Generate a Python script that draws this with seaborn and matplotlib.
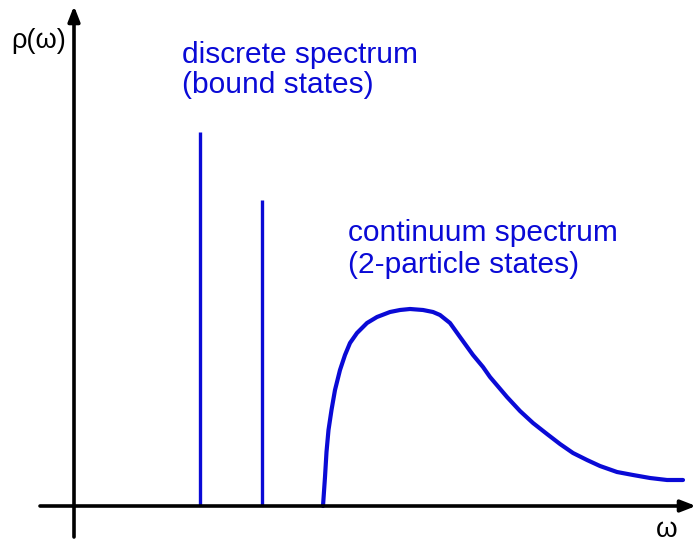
import numpy as np
import pandas as pd
import matplotlib.pyplot as plt
import seaborn as sns

# discrete spectrum (bound states): positions and heights
bound_omega = [126, 188]
bound_rho = [374, 306]

# continuum spectrum (2-particle states)
cont_omega = [249, 251, 252.5, 254.5, 257.5, 261, 266, 271, 276, 283, 293, 303, 316,
              326, 336, 349, 359, 366, 376, 386, 399, 409, 416, 433, 446, 459,
              473, 486, 499, 513, 526, 543, 559, 576, 593, 609]
cont_rho = [0, 29, 54, 76, 96, 116, 136, 151, 163, 173, 183, 189, 194,
            196, 197, 196, 194, 191, 183, 169, 151, 139, 129, 109, 95, 83,
            72, 62, 53, 46, 40, 34, 31, 28, 26, 26]

blue = '#0a0ad6'

sns.set_style('white')
plt.rcParams['font.family'] = ['Liberation Sans', 'DejaVu Sans']

fig = plt.figure(figsize=(7, 5.42), dpi=100)
ax = fig.add_axes([0, 0, 1, 1])
ax.set_xlim(-74, 626)
ax.set_ylim(-36, 506)
ax.axis('off')

# axes with arrows
arrow = dict(arrowstyle='-|>,head_length=0.9,head_width=0.35',
             color='black', lw=2.6, shrinkA=0, shrinkB=0)
ax.annotate('', xy=(622, 0), xytext=(-34, 0), arrowprops=arrow)
ax.annotate('', xy=(0, 500), xytext=(0, -31), arrowprops=arrow)

# bound states
ax.vlines(bound_omega, 0, bound_rho, color=blue, lw=2.4)

# continuum
df = pd.DataFrame({'omega': cont_omega, 'rho': cont_rho})
sns.lineplot(data=df, x='omega', y='rho', ax=ax, color=blue, lw=3,
             sort=False, estimator=None, solid_capstyle='round',
             solid_joinstyle='round')

ax.text(-63, 458, 'ρ(ω)', fontsize=19.5, color='black', va='baseline', ha='left')
ax.text(582, -31, 'ω', fontsize=20, color='black', va='baseline', ha='left')

ax.text(108, 443, 'discrete spectrum', fontsize=21.5, color=blue, va='baseline')
ax.text(108, 413, '(bound states)', fontsize=21.5, color=blue, va='baseline')
ax.text(274, 265, 'continuum spectrum', fontsize=21.5, color=blue, va='baseline')
ax.text(274, 233, '(2-particle states)', fontsize=21.5, color=blue, va='baseline')

fig.savefig('out.png', dpi=100)
